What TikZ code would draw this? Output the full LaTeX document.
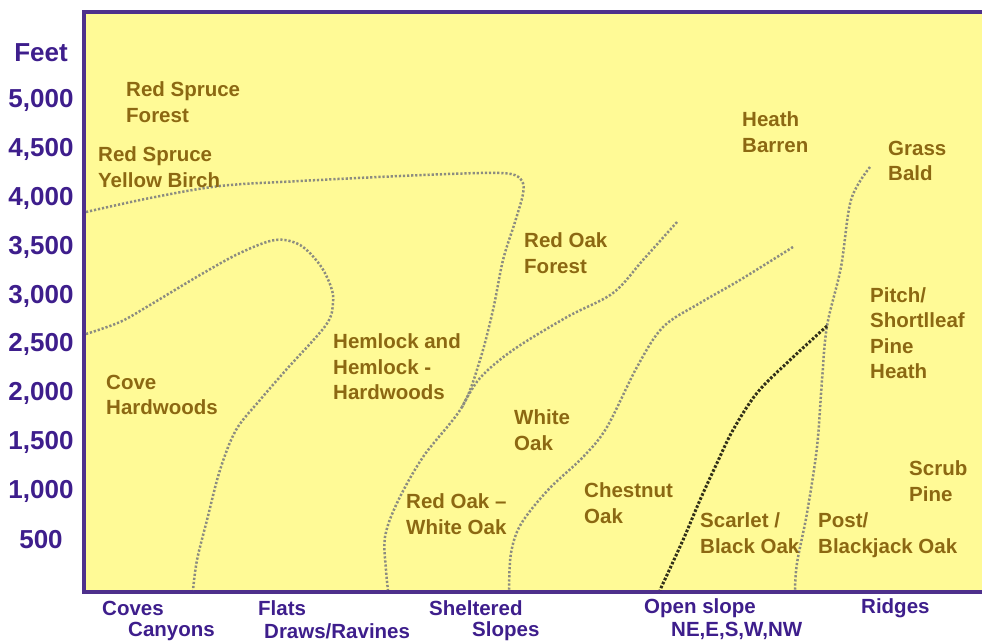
\documentclass[tikz,border=0pt]{standalone}
\usepackage{fontspec}
\setmainfont{Liberation Sans}
\usetikzlibrary{positioning}
\definecolor{chartbg}{RGB}{255,250,150}
\definecolor{vegtxt}{RGB}{140,104,18}
\definecolor{axistxt}{RGB}{62,30,140}
\definecolor{framecol}{RGB}{78,48,140}
\definecolor{dotgray}{RGB}{140,140,128}
\definecolor{dotdark}{RGB}{50,48,25}

\begin{document}
\begin{tikzpicture}[x=1pt, y=-1pt,
    veg/.style={anchor=west, align=left, inner sep=0pt, text=vegtxt,
        font=\bfseries\fontsize{20.5}{25.5}\selectfont},
    elev/.style={inner sep=0pt, text=axistxt, font=\bfseries\fontsize{26}{30}\selectfont},
    site/.style={anchor=west, inner sep=0pt, text=axistxt, font=\bfseries\fontsize{20.5}{24}\selectfont},
    bound/.style={line width=2.5pt, dotgray, dash pattern=on 2.2pt off 1.9pt},
    blackbound/.style={line width=3pt, dotdark, dash pattern=on 2.6pt off 1.8pt}]
    \useasboundingbox (0,0) rectangle (982,642);
    % 背景与坐标框
    \fill[chartbg] (84,12) rectangle (982,592);
    \draw[framecol, line width=3.5pt] (982,12) -- (84,12) -- (84,592) -- (982,592);
    % 纵轴
    \node[elev] (feet) at (41,53) {Feet};
    \node[elev] (e5000) at (41,100) {5,000};
    \node[elev] (e4500) at (41,149) {4,500};
    \node[elev] (e4000) at (41,198) {4,000};
    \node[elev] (e3500) at (41,247) {3,500};
    \node[elev] (e3000) at (41,296) {3,000};
    \node[elev] (e2500) at (41,344) {2,500};
    \node[elev] (e2000) at (41,393) {2,000};
    \node[elev] (e1500) at (41,442) {1,500};
    \node[elev] (e1000) at (41,491) {1,000};
    \node[elev] (e500) at (41,540) {500};
    % 横轴
    \node[site] (coves) at (102,608) {Coves};
    \node[site] (canyons) at (128,631) {Canyons};
    \node[site] (flats) at (258,608) {Flats};
    \node[site] (draws) at (264,631) {Draws/Ravines};
    \node[site] (shelt) at (429,608) {Sheltered};
    \node[site] (slopes) at (472,631) {Slopes};
    \node[site] (open) at (644,608) {Open slope};
    \node[site] (aspect) at (671,631) {NE,E,S,W,NW};
    \node[site] (ridges) at (861,608) {Ridges};
    % 分界线
    \coordinate (merge) at (462,407);
    \coordinate (knee) at (827,326);
    \draw[bound] plot[smooth, tension=0.55] coordinates {(86,212) (150,198) (220,186) (300,181) (400,176)
        (480,173) (511,174) (522,181) (523,194) (515,222) (503,260) (493,310) (480,360) (merge)
        (423,457) (397,503) (385,537) (386,570) (388,590)};
    \draw[bound] plot[smooth, tension=0.55] coordinates {(677,222) (643,260) (613,293) (567,317)
        (513,350) (480,378) (merge)};
    \draw[bound] plot[smooth, tension=0.55] coordinates {(86,334) (120,322) (150,305) (200,275)
        (240,253) (275,240) (300,245) (320,265) (331,287) (333,303) (326,325) (286,370)
        (260,400) (236,430) (220,470) (207,520) (197,560) (193,590)};
    \draw[bound] plot[smooth, tension=0.55] coordinates {(793,247) (740,280) (700,303) (663,327)
        (637,367) (607,427) (584,456) (548,490) (521,524) (511,553) (509,590)};
    \draw[bound] plot[smooth, tension=0.55] coordinates {(870,167) (851,200) (841,267) (knee)
        (822,380) (817,447) (807,513) (797,563) (795,590)};
    \draw[blackbound] plot[smooth, tension=0.55] coordinates {(knee) (790,360) (757,393) (733,430)
        (717,463) (700,500) (683,540) (660,590)};
    % 植被类型
    \node[veg] (rsf) at (126,102) {Red Spruce\\Forest};
    \node[veg] (rsyb) at (98,167) {Red Spruce\\Yellow Birch};
    \node[veg] (heath) at (742,132) {Heath\\Barren};
    \node[veg] (grass) at (888,161) {Grass\\Bald};
    \node[veg] (rof) at (524,253) {Red Oak\\Forest};
    \node[veg] (pitch) at (870,333) {Pitch/\\Shortlleaf\\Pine\\Heath};
    \node[veg] (cove) at (106,395) {Cove\\Hardwoods};
    \node[veg] (hemlock) at (333,367) {Hemlock and\\Hemlock -\\Hardwoods};
    \node[veg] (white) at (514,430) {White\\Oak};
    \node[veg] (rowo) at (406,514) {Red Oak --\\White Oak};
    \node[veg] (chest) at (584,503) {Chestnut\\Oak};
    \node[veg] (scarlet) at (700,533) {Scarlet /\\Black Oak};
    \node[veg] (post) at (818,535) {Post/\\Blackjack Oak};
    \node[veg] (scrub) at (909,481) {Scrub\\Pine};
\end{tikzpicture}
\end{document}
